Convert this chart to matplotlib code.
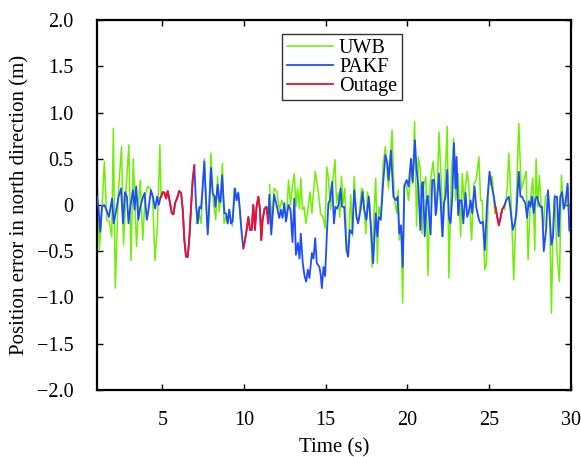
import numpy as np
import matplotlib
matplotlib.use("Agg")
import matplotlib.pyplot as plt
from matplotlib.ticker import FuncFormatter

plt.rcParams["font.family"] = ["Liberation Serif", "DejaVu Serif"]

# ── UWB raw error (no samples during outages) ─────────────────────────────
uwb_t = [
    1.00, 1.15, 1.30, 1.45, 1.60, 1.75, 1.90, 2.00, 2.12, 2.30, 2.50, 2.62, 2.80, 2.95,
    3.08, 3.22, 3.42, 3.55, 3.65, 3.80, 3.95, 4.10, 4.25, 4.40, 4.55, 4.70, 4.85, 4.92,
    7.07, 7.20, 7.37, 7.57, 7.72, 7.80, 7.98, 8.10, 8.27, 8.38, 8.48, 8.56, 8.68, 8.78,
    8.90, 9.00, 9.10, 9.29, 9.39, 9.50, 9.66, 9.78, 9.90,
    11.57, 11.70, 11.85, 12.02, 12.16, 12.32, 12.47, 12.60, 12.73, 12.85, 12.95, 13.08,
    13.18, 13.28, 13.40, 13.48, 13.58, 13.68, 13.79, 13.91, 14.05, 14.16, 14.36, 14.56,
    14.70, 14.85, 14.97, 15.07, 15.16, 15.30, 15.40, 15.57, 15.67, 15.77, 15.87, 15.97,
    16.07, 16.18, 16.28, 16.38, 16.54, 16.65, 16.75, 16.89, 17.03, 17.20, 17.30, 17.46,
    17.56, 17.70, 17.85, 17.95, 18.07, 18.17, 18.26, 18.38, 18.52, 18.66, 18.78, 18.86,
    19.07, 19.20, 19.35, 19.45, 19.51, 19.62, 19.72, 19.82, 19.96, 20.08, 20.23, 20.33,
    20.45, 20.57, 20.68, 20.80, 20.90, 21.00, 21.14, 21.27, 21.40, 21.58, 21.68, 21.80,
    21.94, 22.08, 22.19, 22.30, 22.45, 22.55, 22.70, 22.84, 22.96, 23.12, 23.27, 23.37,
    23.47, 23.57, 23.67, 23.77, 23.94, 24.08, 24.22, 24.39, 24.49, 24.59, 24.75, 24.85,
    25.00, 25.10, 25.20, 25.36,
    25.97, 26.12, 26.22, 26.38, 26.52, 26.66, 26.83, 26.98, 27.08, 27.20, 27.28, 27.40,
    27.54, 27.69, 27.81, 27.89, 27.99, 28.09, 28.21, 28.36, 28.46, 28.62, 28.72, 28.83,
    28.93, 29.03, 29.17, 29.32, 29.44, 29.58, 29.72, 29.84, 29.93,
]
uwb_err = [
    0.32, -0.48, -0.05, 0.47, -0.16, -0.18, -0.34, 0.83, -0.90, 0.12, 0.63, -0.43, 0.23, 0.65,
    -0.60, 0.50, -0.45, 0.05, 0.27, -0.38, 0.10, 0.20, 0.18, 0.10, -0.60, -0.22, 0.65, 0.08,
    -0.20, -0.05, -0.20, 0.50, -0.10, -0.30, 0.56, 0.08, -0.16, 0.31, -0.07, 0.05, 0.45, -0.20,
    -0.13, -0.20, -0.05, -0.23, 0.18, 0.09, 0.14, -0.16, -0.34,
    0.22, -0.16, 0.18, 0.14, -0.05, 0.05, -0.05, -0.16, 0.27, 0.00, 0.18, 0.34,
    -0.02, 0.18, -0.04, 0.29, -0.05, -0.02, -0.20, -0.05, 0.14, -0.09, 0.36, 0.13,
    -0.10, -0.13, -0.25, 0.41, 0.31, -0.05, 0.18, 0.49, 0.02, 0.13, -0.13, 0.31,
    0.02, 0.18, -0.41, -0.49, 0.11, -0.34, 0.31, -0.13, -0.16, 0.18, 0.16, -0.31,
    0.14, 0.02, -0.67, -0.13, 0.29, -0.63, -0.02, -0.13, 0.43, 0.63, 0.31, 0.18,
    0.81, 0.07, -0.09, 0.16, -0.38, -0.23, -1.06, 0.23, 0.20, 0.05, 0.38, 0.23,
    0.90, -0.23, 0.52, 0.38, -0.31, 0.20, 0.31, -0.76, 0.23, 0.47, 0.27, -0.09,
    0.79, 0.27, -0.34, 0.23, 0.85, -0.79, 0.34, 0.72, 0.05, 0.34, -0.34, 0.34,
    0.05, 0.20, 0.36, 0.20, -0.38, 0.23, 0.27, 0.52, 0.05, 0.05, -0.70, -0.63,
    0.31, 0.22, 0.31, -0.09,
    -0.05, 0.18, 0.56, -0.05, -0.81, -0.05, 0.88, 0.16, 0.23, 0.31, 0.36, -0.59,
    0.05, 0.29, -0.49, 0.50, -0.02, 0.32, -0.05, -0.23, 0.09, 0.13, -0.07, -1.17,
    -0.20, 0.11, -0.52, -0.83, 0.32, -0.05, 0.00, 0.20, -0.29,
]

# ── PAKF estimate error (continuous) ──────────────────────────────────────
pakf_t = [
    1.00, 1.10, 1.20, 1.30, 1.45, 1.61, 1.73, 1.92, 2.02, 2.18, 2.32, 2.47, 2.59, 2.71,
    2.83, 2.93, 3.04, 3.20, 3.30, 3.40, 3.53, 3.65, 3.79, 3.91, 4.05, 4.16, 4.30, 4.42,
    4.56, 4.68, 4.78, 4.89,
    4.93, 5.03, 5.13, 5.23, 5.33, 5.44, 5.58, 5.68, 5.78, 5.90, 6.03, 6.15, 6.25, 6.35,
    6.45, 6.56, 6.66, 6.76, 6.86, 6.96,
    7.07, 7.17, 7.27, 7.37, 7.47, 7.57, 7.68, 7.78, 7.88, 7.98, 8.08, 8.20, 8.25, 8.39,
    8.49, 8.56, 8.66, 8.80, 8.90, 9.00, 9.10, 9.20, 9.30, 9.45, 9.55, 9.65, 9.75, 9.86,
    9.96,
    10.06, 10.18, 10.27, 10.37, 10.47, 10.57, 10.67, 10.77, 10.88, 10.98, 11.06, 11.14,
    11.26, 11.38, 11.49,
    11.55, 11.67, 11.85, 12.02, 12.16, 12.26, 12.36, 12.47, 12.57, 12.73, 12.85, 12.97,
    13.08, 13.18, 13.30, 13.40, 13.48, 13.60, 13.71, 13.81, 13.91, 14.01, 14.16, 14.26,
    14.36, 14.46, 14.62, 14.70, 14.77, 14.87, 14.97, 15.07, 15.17, 15.26, 15.40, 15.51,
    15.61, 15.71, 15.81, 15.91, 16.01, 16.14, 16.28, 16.38, 16.48, 16.63, 16.75, 16.89,
    16.99, 17.14, 17.26, 17.36, 17.50, 17.64, 17.77, 17.91, 18.07, 18.17, 18.26, 18.38,
    18.52, 18.66, 18.78, 18.86, 19.00, 19.15, 19.31, 19.41, 19.51, 19.62, 19.72, 19.82,
    19.96, 20.08, 20.23, 20.33, 20.47, 20.57, 20.68, 20.80, 20.90, 20.96, 21.07, 21.18,
    21.25, 21.43, 21.53, 21.64, 21.74, 21.84, 21.94, 22.04, 22.15, 22.25, 22.35, 22.45,
    22.55, 22.65, 22.76, 22.86, 22.96, 23.02, 23.12, 23.22, 23.33, 23.43, 23.57, 23.67,
    23.77, 23.88, 23.98, 24.12, 24.22, 24.39, 24.49, 24.63, 24.75, 24.89, 25.04, 25.16,
    25.30, 25.40,
    25.51, 25.61, 25.71, 25.81, 25.91,
    26.06, 26.22, 26.32, 26.46, 26.58, 26.68, 26.83, 26.93, 27.03, 27.13, 27.23, 27.34,
    27.44, 27.54, 27.64, 27.74, 27.85, 27.95, 28.05, 28.15, 28.26, 28.36, 28.50, 28.62,
    28.72, 28.83, 28.93, 29.03, 29.17, 29.27, 29.37, 29.48, 29.58, 29.68, 29.82, 29.93,
]
pakf_err = [
    0.09, -0.05, -0.29, -0.02, 0.00, -0.07, -0.13, 0.07, -0.20, -0.05, 0.09, 0.18, -0.20, 0.14,
    0.09, -0.20, -0.02, 0.16, -0.05, 0.20, -0.16, -0.02, 0.07, 0.13, -0.16, -0.04, 0.16, 0.09,
    -0.04, 0.09, 0.00, 0.08,
    0.09, 0.14, 0.13, 0.07, 0.15, 0.05, -0.09, -0.10, 0.02, 0.07, 0.15, 0.13, -0.05, -0.38,
    -0.56, -0.56, -0.34, -0.02, 0.27, 0.43,
    -0.02, -0.20, -0.02, -0.04, 0.20, 0.47, 0.02, -0.32, 0.02, 0.40, 0.13, 0.09, -0.02, 0.22,
    0.05, 0.03, 0.32, -0.09, -0.09, -0.20, -0.05, -0.20, -0.18, 0.18, 0.05, 0.13, -0.05, -0.31,
    -0.47,
    -0.38, -0.25, -0.13, -0.27, -0.27, 0.00, -0.27, -0.02, 0.09, -0.05, -0.38, -0.16,
    -0.04, -0.02, -0.20,
    0.11, -0.32, 0.11, -0.02, -0.14, -0.05, -0.14, 0.02, -0.18, 0.00, -0.05, -0.40,
    0.07, -0.54, -0.41, -0.58, -0.31, -0.63, -0.77, -0.83, -0.70, -0.79, -0.52, -0.58,
    -0.36, -0.63, -0.67, -0.76, -0.90, -0.67, -0.77, -0.34, 0.02, 0.05, 0.25, -0.20,
    -0.02, -0.04, 0.02, 0.18, -0.02, -0.02, -0.49, -0.56, -0.27, -0.31, 0.16, -0.13,
    -0.20, -0.05, 0.14, -0.05, -0.16, 0.09, -0.23, -0.63, -0.09, -0.34, -0.13, -0.16,
    0.23, 0.54, 0.45, 0.27, 0.59, 0.09, 0.05, 0.09, -0.31, -0.22, -0.67, 0.20,
    0.27, 0.20, 0.50, 0.25, 0.70, 0.38, 0.20, -0.27, 0.23, 0.25, -0.34, 0.05,
    0.10, -0.32, 0.27, 0.27, -0.11, 0.07, 0.34, 0.05, -0.34, 0.02, 0.09, 0.38,
    -0.14, -0.20, 0.09, 0.67, 0.18, 0.52, -0.11, 0.05, 0.05, -0.20, 0.13, -0.13,
    -0.07, 0.05, -0.09, 0.20, -0.02, -0.16, -0.20, -0.18, -0.49, 0.02, 0.36, 0.22,
    0.09, -0.02,
    -0.13, -0.22, -0.14, -0.05, -0.02,
    0.05, 0.09, -0.05, -0.27, -0.20, -0.09, 0.36, 0.09, 0.09, 0.05, 0.02, -0.14,
    0.04, -0.02, 0.09, -0.09, 0.07, 0.09, 0.02, -0.02, -0.02, -0.50, -0.27, 0.16,
    -0.11, -0.43, -0.34, 0.09, 0.09, -0.34, 0.09, 0.14, -0.04, 0.02, 0.23, -0.27,
]

# UWB outage intervals (s)
outages = [(4.89, 6.96), (9.96, 11.49), (25.40, 25.91)]

GREEN = "#6ef000"
BLUE = "#1f4cff"
RED = "#f0102a"

fig = plt.figure(figsize=(5.81, 4.57), dpi=100)
ax = fig.add_axes([0.167, 0.147, 0.815, 0.809])

ut = np.array(uwb_t)
uv = np.array(uwb_err)
# break the UWB line across outages
gap = np.where(np.diff(ut) > 0.5)[0]
ut_plot = np.insert(ut, gap + 1, np.nan)
uv_plot = np.insert(uv, gap + 1, np.nan)

pt = np.array(pakf_t)
pv = np.array(pakf_err)

ax.plot(ut_plot, uv_plot, color=GREEN, lw=1.1, label="UWB", zorder=2)
ax.plot(pt, pv, color=BLUE, lw=1.3, label="PAKF", zorder=3)
for i, (a, b) in enumerate(outages):
    m = (pt >= a - 1e-9) & (pt <= b + 1e-9)
    ax.plot(pt[m], pv[m], color=RED, lw=1.3, zorder=4,
            label="Outage" if i == 0 else None)

ax.set_xlim(1, 30)
ax.set_ylim(-2, 2)
ax.set_xticks([5, 10, 15, 20, 25, 30])
ax.set_yticks(np.arange(-2.0, 2.01, 0.5))
ax.yaxis.set_major_formatter(FuncFormatter(
    lambda v, p: "0" if abs(v) < 1e-9 else f"{v:.1f}".replace("-", "\u2212")))

ax.tick_params(direction="in", length=4, width=1, labelsize=14.5,
               top=True, right=True)
ax.tick_params(axis="x", pad=15)
ax.tick_params(axis="y", pad=17)
for s in ax.spines.values():
    s.set_linewidth(1.6)

ax.set_xlabel("Time (s)", fontsize=15, labelpad=6)
ax.set_ylabel("Position error in north direction (m)", fontsize=15, labelpad=5)

leg = ax.legend(loc="upper center", bbox_to_anchor=(0.517, 0.962), borderaxespad=0,
                fontsize=14.5, frameon=True, fancybox=False, handlelength=2.3,
                labelspacing=0.0, handletextpad=0.3, borderpad=0.22)
leg.get_frame().set_edgecolor("black")
leg.get_frame().set_linewidth(1.0)

fig.savefig("out.png", dpi=100)
